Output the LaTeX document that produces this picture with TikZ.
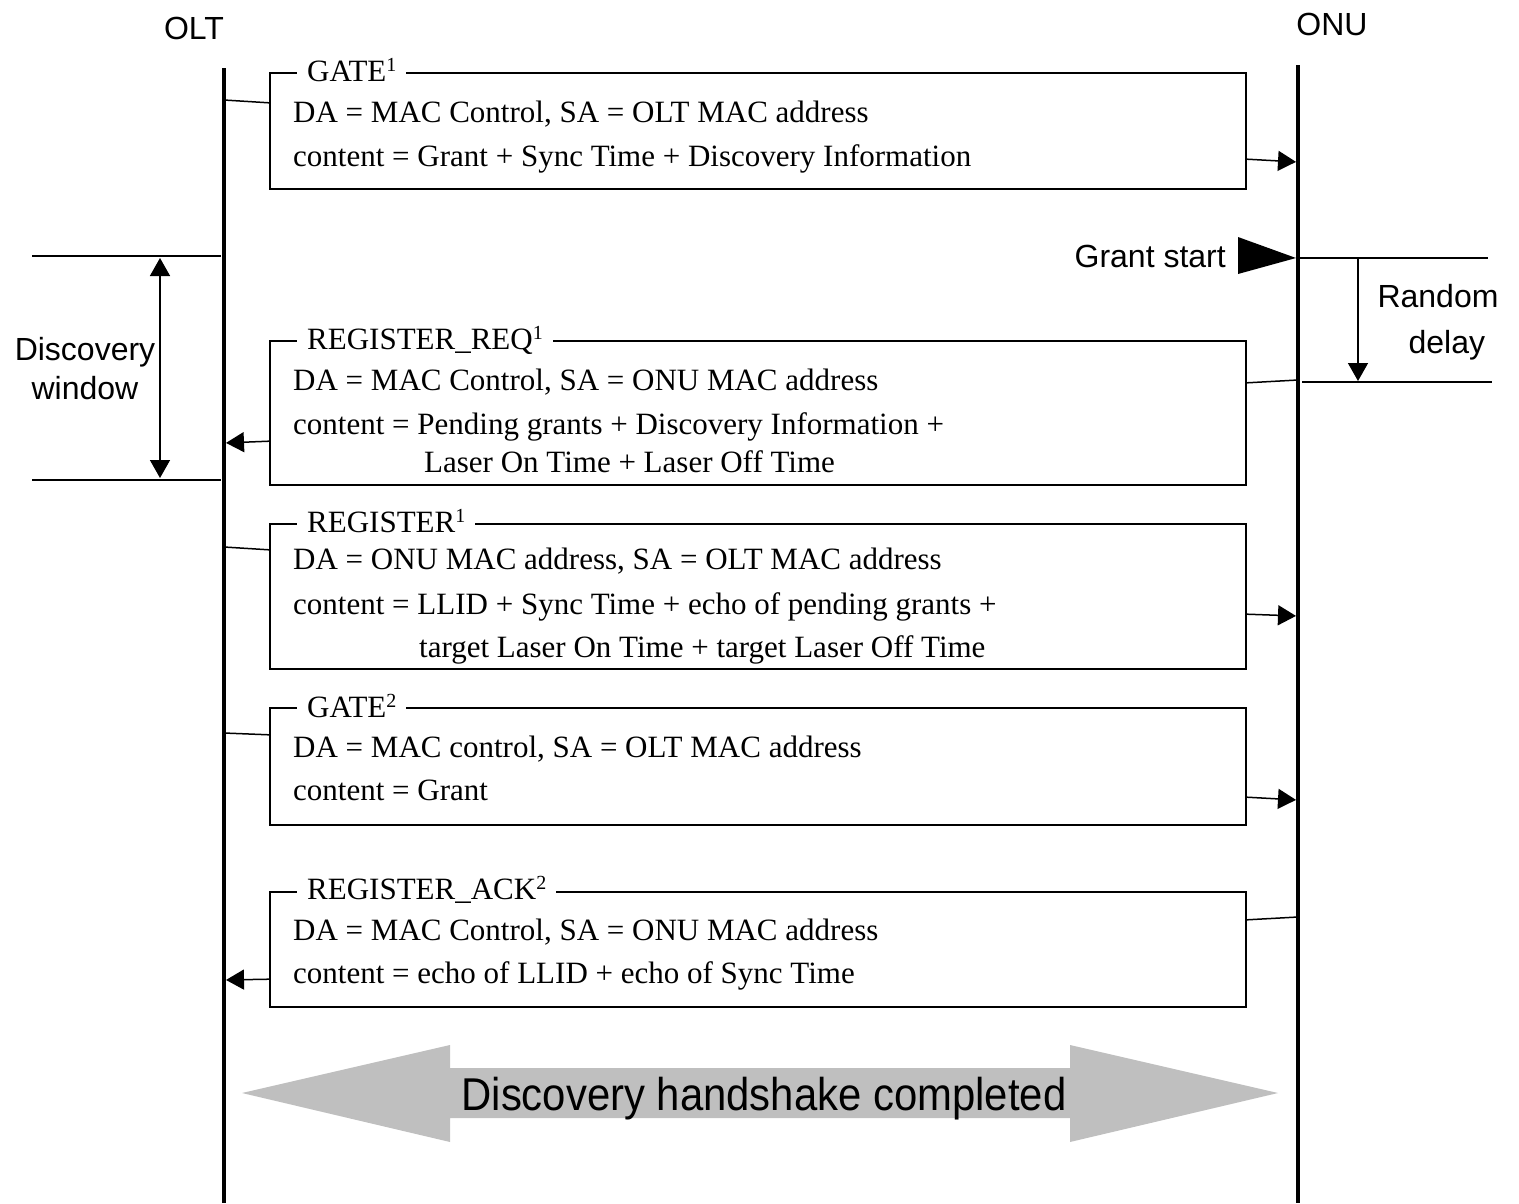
\documentclass[tikz,border=0pt]{standalone}
\usepackage{fontspec}
\setmainfont{Liberation Serif}
\newfontfamily\arialfont{Liberation Sans}
\usetikzlibrary{arrows.meta}

\definecolor{arrowgray}{RGB}{191,191,191}
\newcommand{\msgsup}[1]{\raisebox{10pt}{\fontsize{20}{20}\selectfont #1}}

\begin{document}
\begin{tikzpicture}[x=1pt,y=-1pt,
    lifeline/.style={line width=4pt},
    msgbox/.style={draw, line width=2.4pt, minimum width=976pt, inner sep=0pt},
    msgtitle/.style={anchor=base west, fill=white, inner xsep=10pt, inner ysep=1pt, font=\fontsize{31}{37}\selectfont},
    msgtext/.style={anchor=base west, inner sep=0pt, font=\fontsize{31}{37}\selectfont},
    link/.style={line width=1.5pt},
    rule/.style={line width=2pt},
    sig/.style={line width=1.5pt, shorten >=2pt, -{Triangle[length=18pt,width=20pt]}},
    dsig/.style={line width=1.5pt, {Triangle[length=18pt,width=20pt]}-{Triangle[length=18pt,width=20pt]}},
    sanslabel/.style={font=\arialfont\fontsize{32}{39}\selectfont, inner sep=0pt}]
    \useasboundingbox (0,0) rectangle (1519,1203);

    % lifelines
    \coordinate (olt) at (224,68);
    \coordinate (onu) at (1298,65);
    \draw[lifeline] (olt) -- (olt |- 0,1203);
    \draw[lifeline] (onu) -- (onu |- 0,1203);
    \node[sanslabel] (oltlabel) at (194,28) {OLT};
    \node[sanslabel] (onulabel) at (1332,24) {ONU};

    % GATE 1
    \node[msgbox, minimum height=116pt] (gate1) at (758,131) {};
    \node[msgtitle] (gate1t) at (297,81) {GATE\msgsup{1}};
    \node[msgtext] (gate1a) at (293,122) {DA = MAC Control, SA = OLT MAC address};
    \node[msgtext] (gate1b) at (293,166) {content = Grant + Sync Time + Discovery Information};
    \draw[link] (olt |- 0,100) -- ([yshift=-31pt]gate1.north west);
    \draw[sig] ([yshift=31pt]gate1.south east) -- (onu |- 0,162);

    % discovery window
    \coordinate (winA) at (32,256);
    \coordinate (winB) at (32,480);
    \draw[rule] (winA) -- (221,256);
    \draw[rule] (winB) -- (221,480);
    \draw[dsig] (160,258) -- (160,478);
    \node[sanslabel, align=center] (winlabel) at (85,369) {Discovery\\window};

    % grant start and random delay
    \node[sanslabel, anchor=east] (grantlabel) at (1226,256) {Grant start};
    \fill (1238,237) -- (1296,258) -- (1238,274) -- cycle;
    \coordinate (delayA) at (1488,258);
    \coordinate (delayB) at (1492,382);
    \draw[rule] (onu |- delayA) -- (delayA);
    \draw[rule] (1302,382) -- (delayB);
    \draw[sig, shorten >=0pt] (1358,258) -- (1358,381);
    \node[sanslabel, align=center, font=\arialfont\fontsize{32}{46}\selectfont] (delaylabel) at (1438,322) {Random\\\ \ delay};

    % REGISTER_REQ
    \node[msgbox, minimum height=144pt] (regreq) at (758,413) {};
    \node[msgtitle] (regreqt) at (297,349) {REGISTER\_REQ\msgsup{1}};
    \node[msgtext] (regreqa) at (293,390) {DA = MAC Control, SA = ONU MAC address};
    \node[msgtext] (regreqb) at (293,434) {content = Pending grants + Discovery Information +};
    \node[msgtext] (regreqc) at (424,472) {Laser On Time + Laser Off Time};
    \draw[link] (onu |- 0,380) -- ([yshift=-43pt]regreq.north east);
    \draw[sig] ([yshift=45pt]regreq.south west) -- (olt |- 0,443);

    % REGISTER
    \node[msgbox, minimum height=145pt] (reg) at (758,596.5) {};
    \node[msgtitle] (regt) at (297,532) {REGISTER\msgsup{1}};
    \node[msgtext] (rega) at (293,569) {DA = ONU MAC address, SA = OLT MAC address};
    \node[msgtext] (regb) at (293,614) {content = LLID + Sync Time + echo of pending grants +};
    \node[msgtext] (regc) at (419,657) {target Laser On Time + target Laser Off Time};
    \draw[link] (olt |- 0,547) -- ([yshift=-27pt]reg.north west);
    \draw[sig] ([yshift=56pt]reg.south east) -- (onu |- 0,616);

    % GATE 2
    \node[msgbox, minimum height=117pt] (gate2) at (758,766.5) {};
    \node[msgtitle] (gate2t) at (297,717) {GATE\msgsup{2}};
    \node[msgtext] (gate2a) at (293,757) {DA = MAC control, SA = OLT MAC address};
    \node[msgtext] (gate2b) at (293,800) {content = Grant};
    \draw[link] (olt |- 0,733) -- ([yshift=-28pt]gate2.north west);
    \draw[sig] ([yshift=29pt]gate2.south east) -- (onu |- 0,800);

    % REGISTER_ACK
    \node[msgbox, minimum height=115pt] (regack) at (758,949.5) {};
    \node[msgtitle] (regackt) at (297,899) {REGISTER\_ACK\msgsup{2}};
    \node[msgtext] (regacka) at (293,940) {DA = MAC Control, SA = ONU MAC address};
    \node[msgtext] (regackb) at (293,983) {content = echo of LLID + echo of Sync Time};
    \draw[link] (onu |- 0,917) -- ([yshift=-29pt]regack.north east);
    \draw[sig] ([yshift=29pt]regack.south west) -- (olt |- 0,980);

    % handshake completed
    \fill[arrowgray] (242,1093) -- (450,1045) -- (450,1068) -- (1070,1068) -- (1070,1045) -- (1278,1093)
        -- (1070,1142) -- (1070,1118) -- (450,1118) -- (450,1142) -- cycle;
    \node[anchor=base, inner sep=0pt, xscale=0.91, font=\arialfont\fontsize{46}{50}\selectfont] (donelabel) at (764,1110) {Discovery handshake completed};
\end{tikzpicture}
\end{document}
